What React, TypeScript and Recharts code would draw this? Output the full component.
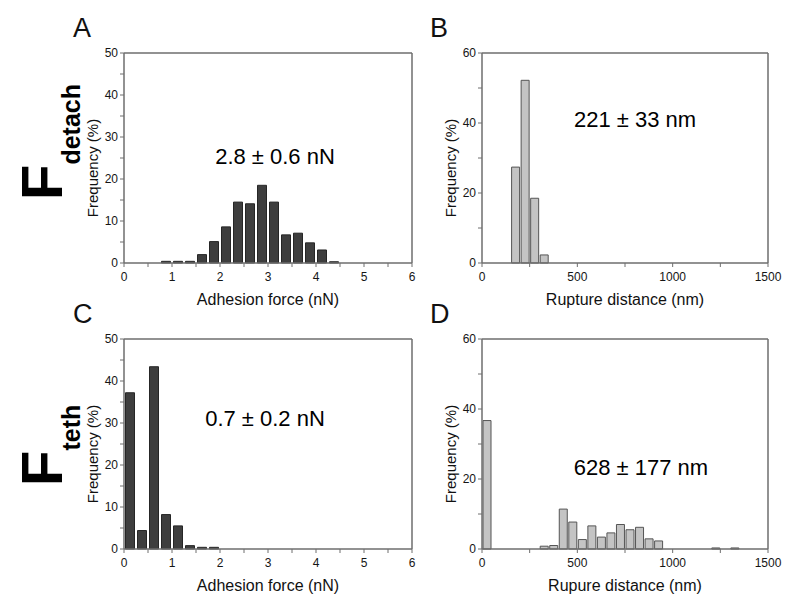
import React from "react";
import { Bar, BarChart, ReferenceLine, XAxis, YAxis } from "recharts";

// Histogram bin centres and frequencies (%).
const forceDetachBins = [0.875, 1.125, 1.375, 1.625, 1.875, 2.125, 2.375, 2.625, 2.875, 3.125, 3.375, 3.625, 3.875, 4.125, 4.375];
const forceDetachFreq = [0.4, 0.4, 0.4, 2.0, 5.1, 8.6, 14.5, 14.1, 18.5, 14.5, 6.7, 7.1, 4.8, 3.1, 0.3];

const ruptureDetachBins = [175, 225, 275, 325];
const ruptureDetachFreq = [27.4, 52.2, 18.5, 2.3];

const forceTethBins = [0.125, 0.375, 0.625, 0.875, 1.125, 1.375, 1.625, 1.875];
const forceTethFreq = [37.2, 4.4, 43.4, 8.2, 5.5, 0.8, 0.4, 0.4];

const ruptureTethBins = [25, 325, 375, 425, 475, 525, 575, 625, 675, 725, 775, 825, 875, 925, 1225, 1325];
const ruptureTethFreq = [36.7, 0.8, 1.0, 11.4, 7.7, 2.7, 6.6, 3.4, 4.6, 7.0, 5.5, 6.2, 2.9, 2.3, 0.3, 0.3];

const forceTicks = [0, 0.5, 1, 1.5, 2, 2.5, 3, 3.5, 4, 4.5, 5, 5.5, 6];
const ruptureTicks = [0, 250, 500, 750, 1000, 1250, 1500];
const freq50Ticks = [0, 5, 10, 15, 20, 25, 30, 35, 40, 45, 50];
const freq60Ticks = [0, 10, 20, 30, 40, 50, 60];

const FONT = '"Liberation Sans", Arial, Helvetica, sans-serif';
const AXIS = "#6e6e6e";
const DARK_FILL = "#3e3e3e";
const DARK_EDGE = "#262626";
const LIGHT_FILL = "#c4c4c4";
const LIGHT_EDGE = "#555555";

type PanelProps = {
  left: number;
  top: number;
  width: number;
  height: number;
  plot: [number, number, number, number]; // x0, y0, x1, y1 in page px
  bins: number[];
  freq: number[];
  xTicks: number[];
  xMajor: number;
  yTicks: number[];
  yMajor: number;
  fill: string;
  edge: string;
  gap: number;
};

function Panel(p: PanelProps) {
  const data = p.bins.map((x, i) => ({ x, f: p.freq[i] }));
  const xMax = p.xTicks[p.xTicks.length - 1];
  const yMax = p.yTicks[p.yTicks.length - 1];
  const yw = 60;
  const xh = 45;
  const [x0, y0, x1, y1] = p.plot;
  const margin = {
    top: y0 - p.top,
    left: x0 - p.left - yw,
    right: p.left + p.width - x1,
    bottom: p.top + p.height - y1 - xh,
  };
  const tickStyle = { fontSize: 12, fill: "#151515", fontFamily: FONT };

  return (
    <div style={{ position: "absolute", left: p.left, top: p.top }}>
      <BarChart width={p.width} height={p.height} data={data} margin={margin} barCategoryGap={p.gap}>
        <XAxis
          type="number"
          dataKey="x"
          domain={[0, xMax]}
          ticks={p.xTicks}
          interval={0}
          height={xh}
          tickSize={4}
          tickMargin={5}
          tick={tickStyle}
          tickFormatter={(v: number) => (v % p.xMajor === 0 ? String(v) : "")}
          axisLine={{ stroke: AXIS, strokeWidth: 1.5 }}
          tickLine={{ stroke: AXIS }}
        />
        <YAxis
          type="number"
          domain={[0, yMax]}
          ticks={p.yTicks}
          interval={0}
          width={yw}
          tickSize={4}
          tickMargin={2}
          tick={tickStyle}
          tickFormatter={(v: number) => (v % p.yMajor === 0 ? String(v) : "")}
          axisLine={{ stroke: AXIS, strokeWidth: 1.5 }}
          tickLine={{ stroke: AXIS }}
        />
        <ReferenceLine y={yMax} stroke={AXIS} strokeWidth={1.5} />
        <ReferenceLine x={xMax} stroke={AXIS} strokeWidth={1.5} />
        <Bar dataKey="f" fill={p.fill} stroke={p.edge} strokeWidth={1} isAnimationActive={false} />
      </BarChart>
    </div>
  );
}

export default function App() {
  const title = { fontFamily: FONT, fill: "#111" };
  return (
    <div
      style={{
        position: "absolute",
        left: 0,
        top: 0,
        width: 785,
        height: 597,
        background: "#fff",
        fontFamily: FONT,
      }}
    >
      <Panel
        left={0} top={0} width={440} height={310}
        plot={[124, 53, 412, 263]}
        bins={forceDetachBins} freq={forceDetachFreq}
        xTicks={forceTicks} xMajor={1} yTicks={freq50Ticks} yMajor={10}
        fill={DARK_FILL} edge={DARK_EDGE} gap={1.5}
      />
      <Panel
        left={420} top={0} width={365} height={310}
        plot={[482, 53, 768, 263]}
        bins={ruptureDetachBins} freq={ruptureDetachFreq}
        xTicks={ruptureTicks} xMajor={500} yTicks={freq60Ticks} yMajor={20}
        fill={LIGHT_FILL} edge={LIGHT_EDGE} gap={1}
      />
      <Panel
        left={0} top={286} width={440} height={310}
        plot={[124, 339, 412, 549]}
        bins={forceTethBins} freq={forceTethFreq}
        xTicks={forceTicks} xMajor={1} yTicks={freq50Ticks} yMajor={10}
        fill={DARK_FILL} edge={DARK_EDGE} gap={1.5}
      />
      <Panel
        left={420} top={286} width={365} height={310}
        plot={[482, 339, 768, 549]}
        bins={ruptureTethBins} freq={ruptureTethFreq}
        xTicks={ruptureTicks} xMajor={500} yTicks={freq60Ticks} yMajor={20}
        fill={LIGHT_FILL} edge={LIGHT_EDGE} gap={1}
      />

      <svg
        width={785}
        height={597}
        style={{ position: "absolute", left: 0, top: 0, pointerEvents: "none" }}
      >
        {/* panel letters */}
        <text x={73} y={37} fontSize={27} {...title}>A</text>
        <text x={430} y={37} fontSize={27} {...title}>B</text>
        <text x={73} y={323} fontSize={27} {...title}>C</text>
        <text x={430} y={323} fontSize={27} {...title}>D</text>

        {/* row labels */}
        <text x={62} y={200} transform="rotate(-90 62 200)" fontWeight="bold" {...title} fill="#000">
          <tspan fontSize={58}>F</tspan>
          <tspan fontSize={25} dy={18}>detach</tspan>
        </text>
        <text x={62} y={486} transform="rotate(-90 62 486)" fontWeight="bold" {...title} fill="#000">
          <tspan fontSize={58}>F</tspan>
          <tspan fontSize={25} dy={18}>teth</tspan>
        </text>

        {/* axis titles */}
        <text x={268} y={305} fontSize={16} textAnchor="middle" {...title}>Adhesion force (nN)</text>
        <text x={625} y={305} fontSize={16} textAnchor="middle" {...title}>Rupture distance (nm)</text>
        <text x={268} y={591} fontSize={16} textAnchor="middle" {...title}>Adhesion force (nN)</text>
        <text x={625} y={591} fontSize={16} textAnchor="middle" {...title}>Rupure distance (nm)</text>

        <text x={92} y={168} transform="rotate(-90 92 168)" fontSize={15} textAnchor="middle" dominantBaseline="central" {...title}>Frequency (%)</text>
        <text x={450} y={168} transform="rotate(-90 450 168)" fontSize={15} textAnchor="middle" dominantBaseline="central" {...title}>Frequency (%)</text>
        <text x={92} y={454} transform="rotate(-90 92 454)" fontSize={15} textAnchor="middle" dominantBaseline="central" {...title}>Frequency (%)</text>
        <text x={450} y={454} transform="rotate(-90 450 454)" fontSize={15} textAnchor="middle" dominantBaseline="central" {...title}>Frequency (%)</text>

        {/* fitted values */}
        <text x={275} y={164} fontSize={22} textAnchor="middle" {...title} fill="#000">2.8 ± 0.6 nN</text>
        <text x={635} y={127} fontSize={22} textAnchor="middle" {...title} fill="#000">221 ± 33 nm</text>
        <text x={265} y={426} fontSize={22} textAnchor="middle" {...title} fill="#000">0.7 ± 0.2 nN</text>
        <text x={641} y={475} fontSize={22} textAnchor="middle" {...title} fill="#000">628 ± 177 nm</text>
      </svg>
    </div>
  );
}
